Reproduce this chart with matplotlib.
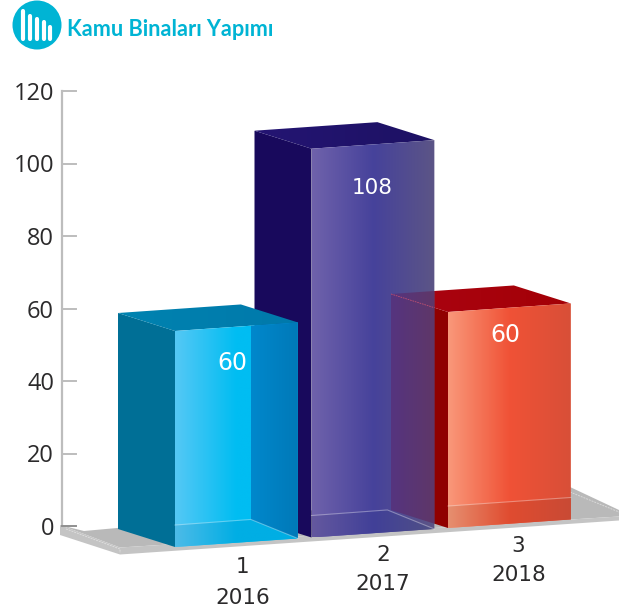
import matplotlib

matplotlib.use("Agg")
import matplotlib.pyplot as plt
import numpy as np
from matplotlib.colors import LinearSegmentedColormap
from matplotlib.patches import Circle, Polygon

categories = ["1", "2", "3"]
years = ["2016", "2017", "2018"]
values = [60, 108, 60]
y_ticks = [0, 20, 40, 60, 80, 100, 120]

# oblique projection of the chart box onto image pixels
ORIGIN = np.array([175.0, 547.0])
CAT_STEP = np.array([136.5, -9.5])
DEPTH = np.array([-57.0, -18.0])
BAR_W = 0.9
PX_PER_UNIT = 3.6

TEAL = "#00b4d4"
GRID_GREY = "#bdbdbd"
TEXT = "#2b2a2b"

# colours per bar: front gradient, lower band gradient, side, top, inner right
STYLES = [
    dict(front=["#55c8f5", "#00bdf2", "#00bdf2"], band=["#4dbbe8", "#00aee4", "#00aee4"],
         side="#006f96", top=["#0083b0", "#0079ab"], inner=["#0088cc", "#0079b8"]),
    dict(front=["#6f62ab", "#46429b", "#5c5586"], band=["#64589f", "#414098", "#505085"],
         side="#18095c", top=["#241573", "#1d1163"], inner=None),
    dict(front=["#f9987a", "#f05236", "#d84f38"], band=["#e68f70", "#e04c30", "#c94a35"],
         side="#900000", top=["#ab0412", "#a30006"], inner=None),
]
LABEL_OFFSET = [(-4, 36), (-1, 44), (-4, 27)]
LABEL_SIZE = [17, 15.5, 17]
AXIS_LABEL_OFFSET = [(6, 24, 55), (10, 22, 51), (9, 22.5, 51.5)]


def proj(cat, val=0.0, depth=0.0):
    """Map (category position, value, depth 0-1) to image pixels."""
    p = ORIGIN + CAT_STEP * cat + DEPTH * depth
    return float(p[0]), float(p[1] - val * PX_PER_UNIT)


def face(ax, verts, color, zorder, alpha=None):
    ax.add_patch(Polygon(verts, closed=True, fc=color, ec="none", zorder=zorder, alpha=alpha))


def gradient_face(ax, verts, colors, zorder):
    """Horizontal gradient clipped to a polygon."""
    verts = np.array(verts)
    x0, x1 = verts[:, 0].min(), verts[:, 0].max()
    y0, y1 = verts[:, 1].min(), verts[:, 1].max()
    cmap = LinearSegmentedColormap.from_list("g", colors)
    img = cmap(np.linspace(0, 1, 256))[None, :, :]
    im = ax.imshow(img, extent=(x0, x1, y1, y0), aspect="auto", interpolation="bilinear",
                   zorder=zorder)
    clip = Polygon(verts, closed=True, transform=ax.transData, fc="none", ec="none")
    im.set_clip_path(clip)


def lerp_y(a, b, x):
    return a[1] + (x - a[0]) * (b[1] - a[1]) / (b[0] - a[0])


def draw_bar(ax, i, val, style, z):
    c0, c1 = i, i + BAR_W
    fl, fr = proj(c0, val), proj(c1, val)
    bl, br = proj(c0, val, 1), proj(c1, val, 1)
    fl0, fr0 = proj(c0), proj(c1)
    bl0, br0 = proj(c0, 0, 1), proj(c1, 0, 1)

    face(ax, [bl, fl, fl0, bl0], style["side"], z)
    gradient_face(ax, [bl, br, fr, fl], style["top"], z + 0.1)
    gradient_face(ax, [fl, fr, fr0, fl0], style["front"], z + 0.2)

    # floor of the bar seen through the front face
    back_at_front = (fl0[0], lerp_y(bl0, br0, fl0[0]))
    if i == 2:
        back_right = (fr0[0], lerp_y(bl0, br0, fr0[0]))
        band = [back_at_front, back_right, fr0, fl0]
        line = [back_at_front, back_right]
    else:
        corner = (br0[0] + 10, br0[1] - 1)
        band = [back_at_front, corner, fr0, fl0]
        line = [back_at_front, corner, fr0]
    gradient_face(ax, band, style["band"], z + 0.3)
    ax.plot(*zip(*line), color="white", alpha=0.35, lw=0.8, zorder=z + 0.4)

    if style["inner"] is not None:
        inner_x = br0[0] + 10
        top_y = lerp_y(fl, fr, inner_x)
        gradient_face(ax, [(inner_x, top_y), fr, fr0, (inner_x, br0[1] - 1)], style["inner"], z + 0.35)


def draw_overlap(ax, i, val, z):
    """Side of bar 3 showing through the front of bar 2."""
    xr = proj(i - 1 + BAR_W)[0]
    bl, br = proj(i, val, 1), proj(i + BAR_W, val, 1)
    fl, bl0, fl0 = proj(i, val), proj(i, 0, 1), proj(i)
    verts = [bl, (xr, lerp_y(bl, br, xr)), (xr, lerp_y(bl0, fl0, xr)), bl0]
    gradient_face(ax, verts, ["#55347f", "#5f3768"], z)
    ax.plot([bl[0], xr], [bl[1], lerp_y(bl, fl, xr)], color="#c05070", lw=0.6, ls=(0, (2, 1)), zorder=z + 0.1)


fig = plt.figure(figsize=(6.19, 6.13), dpi=100)
ax = fig.add_axes([0, 0, 1, 1])
ax.set_axis_off()

# floor slab
left = (60.0, 525.0)
front = (120.0, 547.5)
far_right = (619.0, 516.5)
face(ax, [(84, 531), (570, 487), (619, 510), far_right, front, left], "#b9b9b9", 1)
face(ax, [left, front, far_right, (far_right[0], far_right[1] + 4), (front[0], front[1] + 7),
          (left[0], left[1] + 10)], "#c4c4c4", 1.1)
ax.plot([66, 120, 120], [529, 549, 553], color="#dddddd", lw=0.7, ls=(0, (2, 1)), zorder=1.2)
ax.plot([570, 619], [492, 512], color="#d8d8d8", lw=0.7, ls=(0, (2, 1)), zorder=1.2)

# value axis
AXIS_ZERO = 526.0
AXIS_SCALE = 3.625
ax.plot([62, 62], [AXIS_ZERO - 120 * AXIS_SCALE, AXIS_ZERO], color=GRID_GREY, lw=1.6, zorder=2,
        solid_capstyle="projecting")
for tick in y_ticks:
    y = AXIS_ZERO - tick * AXIS_SCALE
    ax.plot([62, 76], [y, y], color=GRID_GREY if tick else "#8f8f8f", lw=1.4, zorder=2)
    ax.text(54, y, str(tick), ha="right", va="center_baseline", fontsize=17,
            family="Open Sans", color=TEXT, zorder=2)

# far bar first so the nearer ones overlap it
for i in [2, 1, 0]:
    draw_bar(ax, i, values[i], STYLES[i], 3 + (2 - i))
draw_overlap(ax, 2, values[2], 4.38)

for i, (cat, year, val) in enumerate(zip(categories, years, values)):
    cx, cy = proj(i + BAR_W / 2)
    tx, ty = proj(i + BAR_W / 2, val)
    dx, dy = LABEL_OFFSET[i]
    ox, oy1, oy2 = AXIS_LABEL_OFFSET[i]
    ax.text(tx + dx, ty + dy, str(val), ha="center", va="center", fontsize=LABEL_SIZE[i], color="white",
            family="DejaVu Sans", zorder=8)
    ax.text(cx + ox, cy + oy1, cat, ha="center", va="center", fontsize=15.5, color=TEXT,
            family="DejaVu Sans", zorder=8)
    ax.text(cx + ox, cy + oy2, year, ha="center", va="center", fontsize=15.5, color=TEXT,
            family="DejaVu Sans", zorder=8)

# header icon and title
ax.add_patch(Circle((37, 25), 24.5, fc=TEAL, ec="none", zorder=8))
for bx, by in zip([23.3, 30, 37.3, 44, 50], [11, 16, 19, 22, 27]):
    ax.plot([bx, bx], [by, 39], color="white", lw=3, solid_capstyle="round", zorder=9)
ax.text(67, 29, "Kamu Binaları Yapımı", ha="left", va="center", fontsize=15.6, color=TEAL,
        family="Lato", fontweight="bold", zorder=9)

ax.set_xlim(0, 619)
ax.set_ylim(613, 0)
fig.savefig("out.png", dpi=100, facecolor="white")
